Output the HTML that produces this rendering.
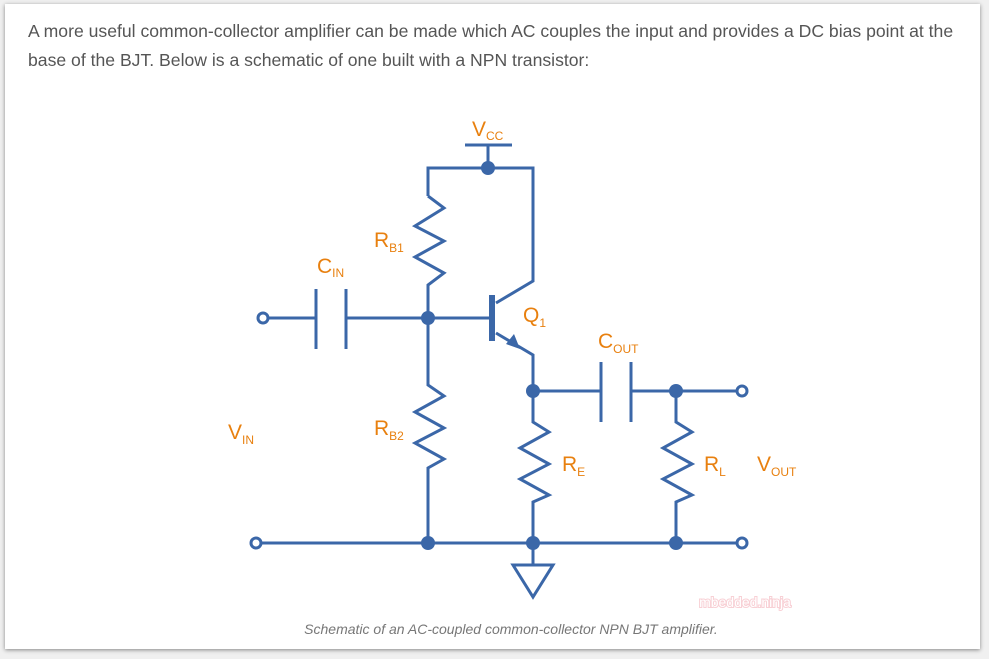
<!DOCTYPE html>
<html><head><style>
body{margin:0;width:989px;height:659px;background:#f0f0f0;overflow:hidden;font-family:"Liberation Sans",Arial,sans-serif}
.card{position:absolute;left:5px;top:4px;width:975px;height:645px;background:#fff;box-shadow:0 1px 4px rgba(0,0,0,.45)}
p{position:absolute;left:28px;top:17px;margin:0;width:935px;font-size:17.6px;line-height:29px;color:#555}
svg{position:absolute;left:0;top:0}
</style></head><body>
<div class="card"></div>
<p>A more useful common-collector amplifier can be made which AC couples the input and provides a DC bias point at the base of the BJT. Below is a schematic of one built with a NPN transistor:</p>
<svg width="989" height="659" viewBox="0 0 989 659">
<g stroke="#3b67a8" stroke-width="3" fill="none" stroke-linejoin="miter">
<line x1="465" y1="145" x2="512" y2="145"/>
<line x1="488" y1="145" x2="488" y2="168"/>
<polyline points="428,196 428,168 533,168 533,281 496,303"/>
<polyline points="428,196 444,208 415,226 444,241 415,257 444,273 428,285 428,318"/>
<line x1="268" y1="318" x2="316" y2="318"/>
<line x1="316" y1="289" x2="316" y2="349"/>
<line x1="346" y1="289" x2="346" y2="349"/>
<line x1="346" y1="318" x2="492" y2="318"/>
<polyline points="428,318 428,385 444,396 415,412 444,428 415,443 444,459 428,468 428,543"/>
<polyline points="496,333 533,355 533,391"/>
<polyline points="533,391 533,422 549,432 520,448 549,464 520,479 549,495 533,502 533,543"/>
<line x1="533" y1="391" x2="601" y2="391"/>
<line x1="601" y1="362" x2="601" y2="422"/>
<line x1="631" y1="362" x2="631" y2="422"/>
<line x1="631" y1="391" x2="737" y2="391"/>
<polyline points="676,391 676,422 692,432 663,448 692,464 663,479 692,495 676,502 676,543"/>
<line x1="261" y1="543" x2="737" y2="543"/>
<line x1="533" y1="543" x2="533" y2="565"/>
<polygon points="513,565 553,565 533,597"/>
<circle cx="263" cy="318" r="5" fill="#fff"/>
<circle cx="256" cy="543" r="5" fill="#fff"/>
<circle cx="742" cy="391" r="5" fill="#fff"/>
<circle cx="742" cy="543" r="5" fill="#fff"/>
</g>
<rect x="489" y="295" width="6" height="46" fill="#3b67a8"/>
<polygon points="520,349 506,344 514,334" fill="#3b67a8"/>
<g fill="#3b67a8">
<circle cx="488" cy="168" r="7"/><circle cx="428" cy="318" r="7"/><circle cx="533" cy="391" r="7"/>
<circle cx="676" cy="391" r="7"/><circle cx="428" cy="543" r="7"/><circle cx="533" cy="543" r="7"/><circle cx="676" cy="543" r="7"/>
</g>
<g fill="#e8800f" font-family="Liberation Sans,Arial,sans-serif" font-size="21">
<text x="472" y="136">V<tspan font-size="12" dy="4">CC</tspan></text>
<text x="374" y="247">R<tspan font-size="12" dy="5">B1</tspan></text>
<text x="317" y="273">C<tspan font-size="12" dy="4">IN</tspan></text>
<text x="523" y="322">Q<tspan font-size="12" dy="5">1</tspan></text>
<text x="598" y="348">C<tspan font-size="12" dy="5">OUT</tspan></text>
<text x="228" y="439">V<tspan font-size="12" dy="5">IN</tspan></text>
<text x="374" y="435">R<tspan font-size="12" dy="5">B2</tspan></text>
<text x="562" y="471">R<tspan font-size="12" dy="5">E</tspan></text>
<text x="704" y="471">R<tspan font-size="12" dy="5">L</tspan></text>
<text x="757" y="471">V<tspan font-size="12" dy="5">OUT</tspan></text>
</g>
<text x="745" y="607" text-anchor="middle" font-size="14" fill="#fff" stroke="#f8d0d5" stroke-width="2" paint-order="stroke" font-family="Liberation Sans,Arial,sans-serif">mbedded.ninja</text>
<text x="511" y="634" text-anchor="middle" font-size="14" font-style="italic" fill="#777" font-family="Liberation Sans,Arial,sans-serif">Schematic of an AC-coupled common-collector NPN BJT amplifier.</text>
</svg>
</body></html>
